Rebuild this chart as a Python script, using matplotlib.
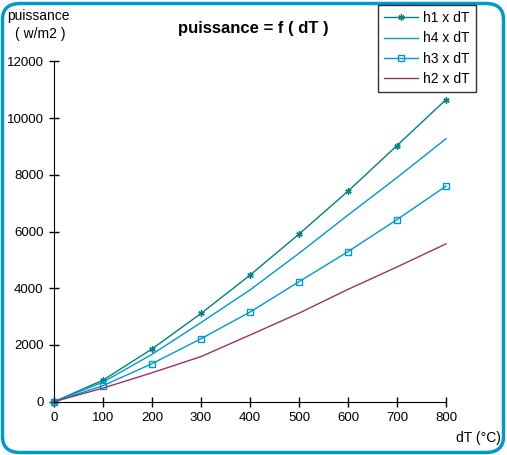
import matplotlib.pyplot as plt
from matplotlib.patches import FancyBboxPatch

plt.rcParams['font.family'] = ['Liberation Sans', 'DejaVu Sans']

dT = [0, 100, 200, 300, 400, 500, 600, 700, 800]
h1 = [0, 760, 1860, 3110, 4460, 5910, 7420, 9030, 10650]
h4 = [0, 690, 1670, 2790, 3940, 5230, 6580, 7900, 9270]
h3 = [0, 565, 1340, 2220, 3160, 4230, 5290, 6420, 7600]
h2 = [0, 480, 1020, 1590, 2350, 3120, 3960, 4750, 5565]

fig = plt.figure(figsize=(5.07, 4.55), dpi=100)
ax = fig.add_axes([54/507, 53.3/455, 392/507, 340.4/455])

ax.plot(dT, h1, color='#008080', lw=1, marker=(6, 2, 0), ms=4.5, mew=1, label='h1 x dT')
ax.plot(dT, h4, color='#0099cc', lw=1, label='h4 x dT')
ax.plot(dT, h3, color='#0099cc', lw=1, marker='s', ms=4.5, mfc='none', mew=1, label='h3 x dT')
ax.plot(dT, h2, color='#993366', lw=1, label='h2 x dT')

ax.set_xlim(0, 800)
ax.set_ylim(0, 12000)
ax.set_xticks(range(0, 801, 100))
ax.set_yticks(range(0, 12001, 2000))
ax.spines['top'].set_visible(False)
ax.spines['right'].set_visible(False)
ax.tick_params(direction='inout', length=7, width=1, labelsize=9.5, pad=4)
for l in ax.lines:
    l.set_clip_on(False)

fig.text(178/507, 1 - 28/455, 'puissance = f ( dT )', fontsize=12, fontweight='bold', va='center')
fig.text(7/507, 1 - 16/455, 'puissance', fontsize=10, va='center')
fig.text(15/507, 1 - 34/455, '( w/m2 )', fontsize=10, va='center')
fig.text(501/507, 1 - 438/455, 'dT (°C)', fontsize=10, va='center', ha='right')

leg = fig.legend(loc='upper left', bbox_to_anchor=(378/507, 1 - 5/455), fontsize=10,
                 frameon=True, fancybox=False, edgecolor='black', handlelength=2.4,
                 labelspacing=0.45, borderpad=0.45, handletextpad=0.4, borderaxespad=0)
leg.get_frame().set_linewidth(1)

border = FancyBboxPatch((2.5/507, 2.5/455), 501/507, 449/455,
                        boxstyle='round,pad=0,rounding_size=0.035',
                        transform=fig.transFigure, fill=False, edgecolor='#0099cc', lw=2.5)
fig.patches.append(border)

fig.savefig('out.png', dpi=100)
